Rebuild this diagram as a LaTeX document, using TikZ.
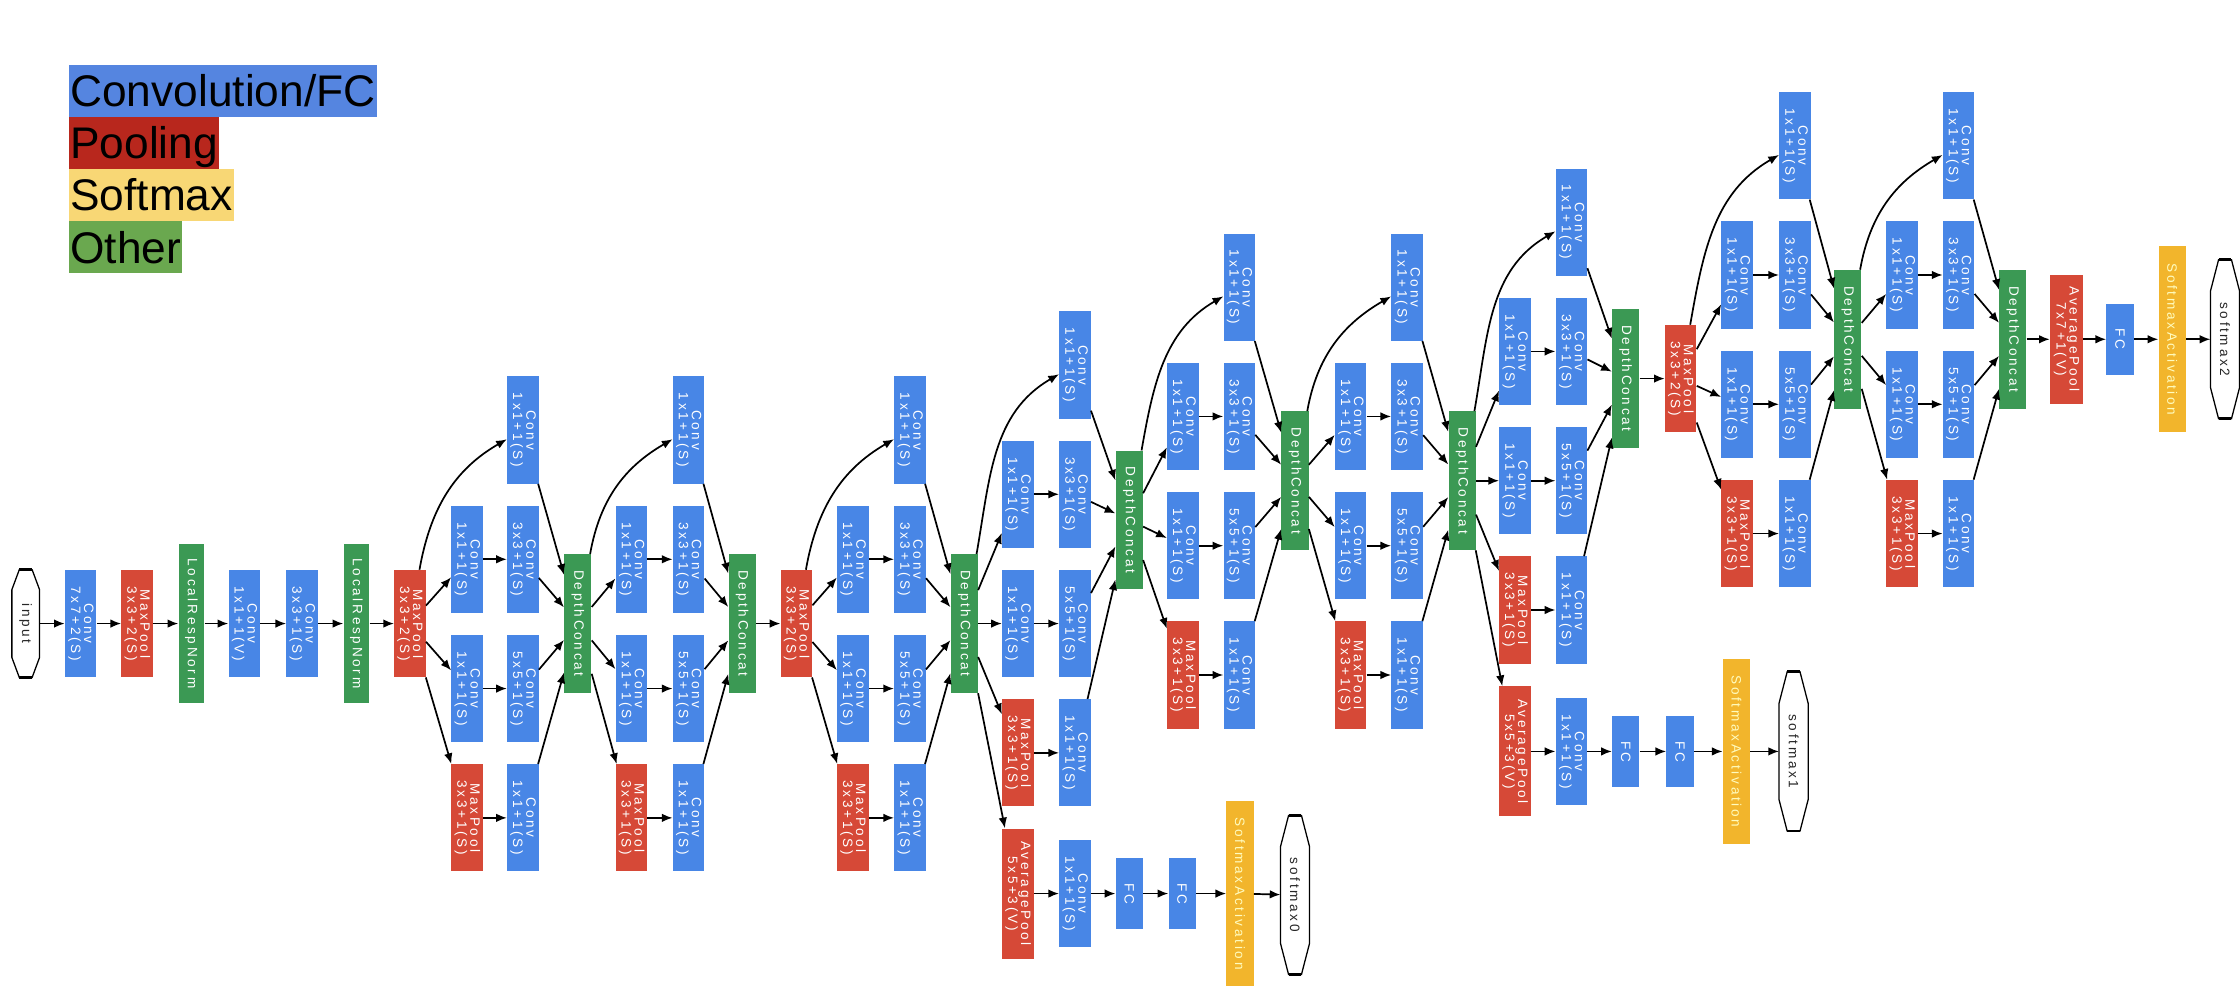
\documentclass[tikz,border=0pt]{standalone}
\usepackage{fontspec}
\usepackage{graphicx}
\usetikzlibrary{arrows.meta,calc}
\newfontfamily\boxfont[LetterSpace=20]{Liberation Sans}
\newfontfamily\legfont{Liberation Sans}
\definecolor{gblue}{HTML}{4886E6}
\definecolor{gred}{HTML}{D64937}
\definecolor{ggreen}{HTML}{3B9954}
\definecolor{gyellow}{HTML}{F2B52C}
\definecolor{lblue}{HTML}{5585E0}
\definecolor{lred}{HTML}{B8271D}
\definecolor{lyellow}{HTML}{F8D775}
\definecolor{lgreen}{HTML}{6AA84F}
\newcommand\TwoL[2]{\rotatebox{-90}{\begin{tabular}{@{}c@{}}#1\\#2\end{tabular}}}
\newcommand\OneL[1]{\rotatebox{-90}{#1}}
\tikzset{
  blk/.style={draw=none, inner sep=0pt, text=white, font=\boxfont\fontsize{9.5}{7.5}\selectfont},
  cv/.style={blk, fill=gblue, minimum width=22pt, minimum height=75pt},
  pl/.style={blk, fill=gred, minimum width=22pt, minimum height=75pt},
  cat/.style={blk, fill=ggreen, minimum width=19pt, minimum height=97pt},
  lrn/.style={blk, fill=ggreen, minimum width=18pt, minimum height=111pt},
  avp/.style={blk, fill=gred, minimum width=22pt, minimum height=91pt},
  fcn/.style={blk, fill=gblue, minimum width=19pt, minimum height=50pt},
  sma/.style={blk, fill=gyellow, text=yellow!25, minimum width=19pt, minimum height=130pt},
  hexn/.style={blk, text=black!85, minimum width=20pt, minimum height=111pt},
  hexl/.style={draw=black, line width=0.9pt},
  edg/.style={-{Latex[length=7.5pt,width=6pt]}, line width=1.2pt, black},
  leg/.style={anchor=north west, inner sep=0pt, inner xsep=1pt, text height=29.5pt, text depth=7pt, font=\legfont\fontsize{31}{36}\selectfont, text=black}
}
\newcommand\HexOut[3]{%
  \draw[hexl] ($(#1.north)+(-#2,0)$) -- ($(#1.north)+(#2,0)$) -- ($(#1.north east)+(0,-#3)$) -- ($(#1.south east)+(0,#3)$) -- ($(#1.south)+(#2,0)$) -- ($(#1.south)+(-#2,0)$) -- ($(#1.south west)+(0,#3)$) -- ($(#1.north west)+(0,-#3)$) -- cycle;
  \draw[line width=2pt] ($(#1.north)+(-#2,0)$) -- ($(#1.north)+(#2,0)$);
  \draw[line width=2pt] ($(#1.south)+(-#2,0)$) -- ($(#1.south)+(#2,0)$);}
% #1 name, #2 input, #3 xA, #4 xB, #5 yTop, #6 xCat, #7 yCat
\newcommand\Incep[7]{%
  \node[cv] (#1t) at (#4,-#5) {\TwoL{Conv}{1x1+1(S)}};
  \node[cv] (#1a1) at (#3,{-#5-90.5}) {\TwoL{Conv}{1x1+1(S)}};
  \node[cv] (#1b1) at (#4,{-#5-90.5}) {\TwoL{Conv}{3x3+1(S)}};
  \node[cv] (#1a2) at (#3,{-#5-181}) {\TwoL{Conv}{1x1+1(S)}};
  \node[cv] (#1b2) at (#4,{-#5-181}) {\TwoL{Conv}{5x5+1(S)}};
  \node[pl] (#1a3) at (#3,{-#5-271.5}) {\TwoL{MaxPool}{3x3+1(S)}};
  \node[cv] (#1b3) at (#4,{-#5-271.5}) {\TwoL{Conv}{1x1+1(S)}};
  \node[cat] (#1c) at (#6,-#7) {\OneL{DepthConcat}};
  \draw[edg] (#2) to[out=80,in=210] (#1t);
  \draw[edg] (#2) -- (#1a1);
  \draw[edg] (#2) -- (#1a2);
  \draw[edg] (#2) -- (#1a3);
  \draw[edg] (#1a1) -- (#1b1);
  \draw[edg] (#1a2) -- (#1b2);
  \draw[edg] (#1a3) -- (#1b3);
  \draw[edg] (#1t) -- (#1c);
  \draw[edg] (#1b1) -- (#1c);
  \draw[edg] (#1b2) -- (#1c);
  \draw[edg] (#1b3) -- (#1c);}
\begin{document}
\begin{tikzpicture}[x=1pt,y=1pt]
\useasboundingbox (0,0) rectangle (1568,-700);
\fill[white] (0,0) rectangle (1568,-700);
% legend
\node[leg, fill=lblue] (lg1) at (48,-45) {Convolution/FC};
\node[leg, fill=lred] (lg2) at (48,-81.5) {Pooling};
\node[leg, fill=lyellow] (lg3) at (48,-118) {Softmax};
\node[leg, fill=lgreen] (lg4) at (48,-154.5) {Other};
% stem
\node[hexn, minimum width=19pt, minimum height=75pt] (inp) at (18,-436.5) {\OneL{input}};
\HexOut{inp}{4.5}{14}
\node[cv] (c7) at (56.5,-436.5) {\TwoL{Conv}{7x7+2(S)}};
\node[pl] (mp0) at (96,-436.5) {\TwoL{MaxPool}{3x3+2(S)}};
\node[lrn] (lrn1) at (134,-436.5) {\OneL{LocalRespNorm}};
\node[cv] (c1) at (171,-436.5) {\TwoL{Conv}{1x1+1(V)}};
\node[cv] (c3) at (211.5,-436.5) {\TwoL{Conv}{3x3+1(S)}};
\node[lrn] (lrn2) at (249.5,-436.5) {\OneL{LocalRespNorm}};
\node[pl] (mp1) at (287,-436.5) {\TwoL{MaxPool}{3x3+2(S)}};
\draw[edg] (inp) -- (c7);
\draw[edg] (c7) -- (mp0);
\draw[edg] (mp0) -- (lrn1);
\draw[edg] (lrn1) -- (c1);
\draw[edg] (c1) -- (c3);
\draw[edg] (c3) -- (lrn2);
\draw[edg] (lrn2) -- (mp1);
% inception 3
\Incep{i3a}{mp1}{327}{366}{301}{404.5}{436.5}
\Incep{i3b}{i3ac}{442}{482}{301}{519.5}{436.5}
\node[pl] (mp2) at (557.5,-436.5) {\TwoL{MaxPool}{3x3+2(S)}};
\draw[edg] (i3bc) -- (mp2);
% inception 4
\Incep{i4a}{mp2}{597}{637}{301}{675}{436.5}
\Incep{i4b}{i4ac}{712.5}{752.5}{255.5}{790.5}{364}
\Incep{i4c}{i4bc}{828}{867.5}{201}{906.5}{336.5}
\Incep{i4d}{i4cc}{945.5}{985}{201}{1023.5}{336.5}
\Incep{i4e}{i4dc}{1060.5}{1100}{155.5}{1138}{265}
\node[pl] (mp3) at (1176.5,-265) {\TwoL{MaxPool}{3x3+2(S)}};
\draw[edg] (i4ec) -- (mp3);
% inception 5
\Incep{i5a}{mp3}{1216}{1256.5}{102}{1293.5}{237.5}
\Incep{i5b}{i5ac}{1331.5}{1371}{102}{1409}{237.5}
% head
\node[avp, minimum width=23pt, minimum height=90pt] (ap2) at (1446.5,-237.5) {\TwoL{AveragePool}{7x7+1(V)}};
\node[fcn] (fc2) at (1484,-237.5) {\OneL{FC}};
\node[sma] (sa2) at (1520.5,-237.5) {\OneL{SoftmaxActivation}};
\node[hexn] (sm2) at (1557.5,-237.5) {\OneL{softmax2}};
\HexOut{sm2}{4.5}{22}
\draw[edg] (i5bc) -- (ap2);
\draw[edg] (ap2) -- (fc2);
\draw[edg] (fc2) -- (sa2);
\draw[edg] (sa2) -- (sm2);
% aux 0
\node[avp] (ap0) at (712.5,-625.5) {\TwoL{AveragePool}{5x5+3(V)}};
\node[cv] (a0c) at (752.5,-625.5) {\TwoL{Conv}{1x1+1(S)}};
\node[fcn] (a0f1) at (790.5,-625.5) {\OneL{FC}};
\node[fcn] (a0f2) at (827.5,-625.5) {\OneL{FC}};
\node[sma] (sa0) at (868,-625.5) {\OneL{SoftmaxActivation}};
\node[hexn] (sm0) at (906.5,-626.5) {\OneL{softmax0}};
\HexOut{sm0}{4.5}{22}
\draw[edg] (i4ac) -- (ap0);
\draw[edg] (ap0) -- (a0c);
\draw[edg] (a0c) -- (a0f1);
\draw[edg] (a0f1) -- (a0f2);
\draw[edg] (a0f2) -- (sa0);
\draw[edg] (sa0) -- (sm0);
% aux 1
\node[avp] (ap1) at (1060.5,-526) {\TwoL{AveragePool}{5x5+3(V)}};
\node[cv] (a1c) at (1100,-526) {\TwoL{Conv}{1x1+1(S)}};
\node[fcn] (a1f1) at (1138,-526) {\OneL{FC}};
\node[fcn] (a1f2) at (1176,-526) {\OneL{FC}};
\node[sma] (sa1) at (1215.5,-526) {\OneL{SoftmaxActivation}};
\node[hexn] (sm1) at (1255.5,-526) {\OneL{softmax1}};
\HexOut{sm1}{4.5}{22}
\draw[edg] (i4dc) -- (ap1);
\draw[edg] (ap1) -- (a1c);
\draw[edg] (a1c) -- (a1f1);
\draw[edg] (a1f1) -- (a1f2);
\draw[edg] (a1f2) -- (sa1);
\draw[edg] (sa1) -- (sm1);
\end{tikzpicture}
\end{document}
